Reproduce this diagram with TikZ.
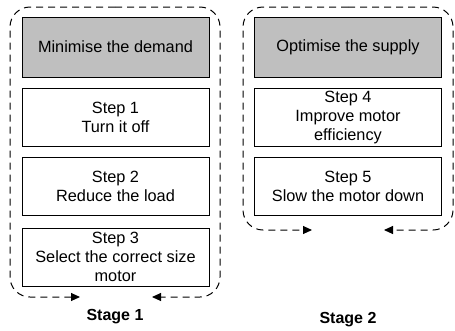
\documentclass[tikz,border=0pt]{standalone}
\usepackage{fontspec}
\setmainfont{Liberation Sans}
\usetikzlibrary{arrows.meta}
\tikzset{
  box/.style={draw=black, line width=1pt, fill=white, minimum width=187pt, align=center, inner sep=0pt,
    font=\fontsize{16.3}{19}\selectfont},
  head/.style={box, fill=gray!50},
  outline/.style={draw=black, line width=1pt, dash pattern=on 7pt off 5pt, rounded corners=20pt,
    -{Triangle[length=9pt,width=8pt]}},
  stage/.style={font=\fontsize{16}{19}\selectfont\bfseries}
}
\begin{document}
\begin{tikzpicture}[x=1pt,y=-1pt]
\useasboundingbox (0,0) rectangle (455,330);
% Stage 1
\coordinate (t1) at (115,7);
\coordinate (a1) at (80,297);
\coordinate (b1) at (152,297);
\draw[outline] (t1) -- (10,7) -- (10,297) -- (a1);
\draw[outline] (t1) -- (220,7) -- (220,297) -- (b1);
\node[head, minimum height=60pt] (h1) at (115.5,47) {Minimise the demand};
\node[box, minimum height=58pt] (s1) at (115.5,117) {Step 1\\Turn it off};
\node[box, minimum height=58pt] (s2) at (115.5,186) {Step 2\\Reduce the load};
\node[box, minimum height=58pt] (s3) at (115.5,257) {Step 3\\Select the correct size\\motor};
\node[stage] (st1) at (115,317) {Stage 1};
% Stage 2
\coordinate (t2) at (348,7);
\coordinate (a2) at (312,230);
\coordinate (b2) at (384,230);
\draw[outline] (t2) -- (243,7) -- (243,230) -- (a2);
\draw[outline] (t2) -- (453,7) -- (453,230) -- (b2);
\node[head, minimum height=60pt] (h2) at (348,47) {Optimise the supply};
\node[box, minimum height=58pt] (s4) at (348,117) {Step 4\\Improve motor\\efficiency};
\node[box, minimum height=58pt] (s5) at (348,186.5) {Step 5\\Slow the motor down};
\node[stage] (st2) at (348,320) {Stage 2};
\end{tikzpicture}
\end{document}
